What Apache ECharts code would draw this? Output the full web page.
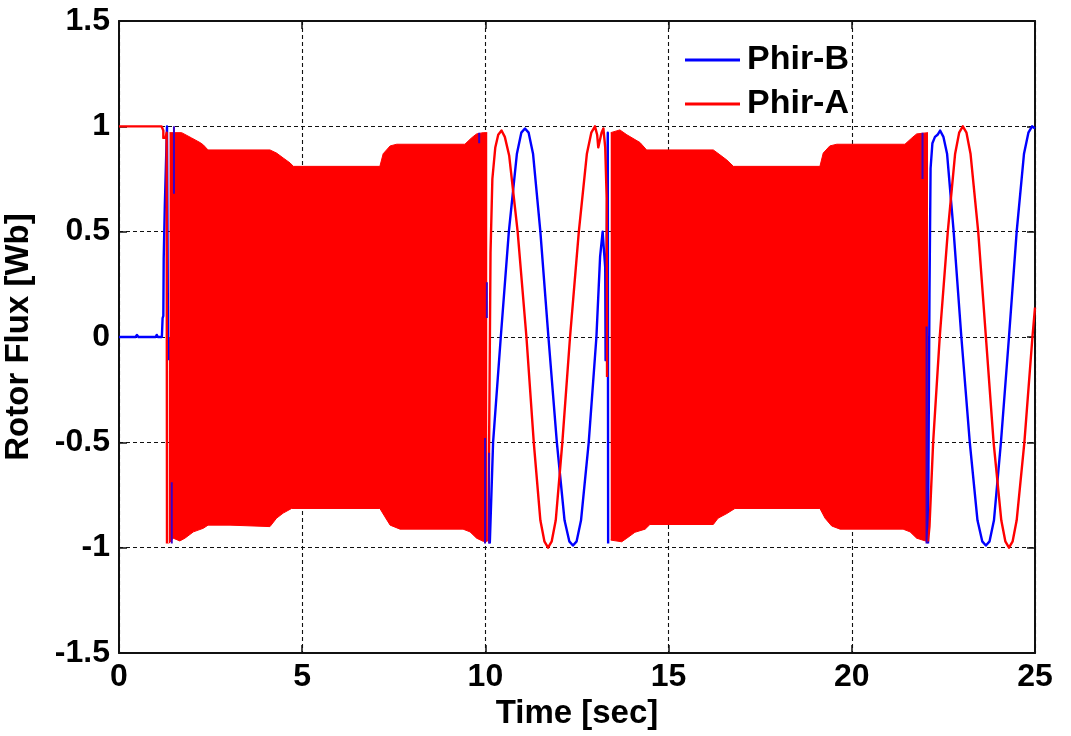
<!DOCTYPE html>
<html>
<head>
<meta charset="utf-8">
<script src="https://cdn.jsdelivr.net/npm/echarts@6/dist/echarts.min.js"></script>
<style>
html,body{margin:0;padding:0;background:#fff;}
#chart{width:1071px;height:736px;}
</style>
</head>
<body>
<div id="chart"></div>
<script>
// ---- data: [time (s), flux (Wb)] ; null = gap ----
const legendNames = ['Phir-B', 'Phir-A'];

// Phir-B slow trace (blue), drawn first
const phirB_trace = [
  [0,0],[0.45,0],[0.49,0.01],[0.53,0],[1.0,0],[1.03,0.01],[1.06,0],[1.17,0],[1.19,0.09],[1.21,0.1],
  [1.22,0.37],[1.25,0.62],[1.28,0.62],[1.31,1.0],[1.34,1.0],[1.34,-0.11],[1.34,null],
  [10.12,-0.98],[10.21,-0.5],[10.42,0],[10.64,0.5],[10.86,0.87],[10.98,0.97],[11.08,0.99],[11.18,0.97],
  [11.3,0.87],[11.5,0.5],[11.72,0],[11.95,-0.5],[12.16,-0.87],[12.29,-0.97],[12.39,-0.99],[12.49,-0.97],
  [12.61,-0.87],[12.82,-0.5],[13.03,0],[13.13,0.38],[13.2,0.5],[13.24,0.4],[13.27,0.33],[13.28,-0.11],
  [13.3,-0.11],[13.34,0.97],[13.35,-0.98],[13.36,null],
  [22.08,-0.98],[22.12,0.2],[22.15,0.8],[22.2,0.92],[22.27,0.95],[22.34,0.96],[22.41,0.98],[22.5,0.95],
  [22.6,0.87],[22.78,0.5],[22.99,0],[23.22,-0.5],[23.43,-0.87],[23.56,-0.97],[23.66,-0.99],[23.76,-0.97],
  [23.88,-0.87],[24.07,-0.5],[24.29,0],[24.5,0.5],[24.7,0.87],[24.82,0.97],[24.92,1.0],[25,0.99]
];

// Phir-A slow trace (red)
const phirA_trace = [
  [0,1],[1.16,1],[1.21,0.98],[1.21,0.945],[1.27,0.945],[1.3,0.97],[1.31,-0.98],[1.32,null],
  [10.08,-0.97],[10.11,-0.3],[10.14,0.4],[10.19,0.75],[10.27,0.9],[10.35,0.96],[10.44,0.98],[10.53,0.95],
  [10.65,0.86],[10.88,0.5],[11.12,0],[11.32,-0.5],[11.5,-0.87],[11.61,-0.97],[11.71,-1.0],[11.81,-0.97],
  [11.92,-0.87],[12.1,-0.5],[12.31,0],[12.55,0.5],[12.77,0.87],[12.89,0.97],[12.99,1.0],[13.05,0.96],
  [13.08,0.9],[13.12,0.9],[13.17,0.97],[13.22,0.99],[13.27,0.9],[13.3,0.9],[13.31,0.66],[13.32,-0.19],[13.33,null],
  [22.08,-0.97],[22.12,-0.9],[22.22,-0.5],[22.4,0],[22.62,0.5],[22.82,0.87],[22.93,0.97],[23.03,1.0],
  [23.13,0.97],[23.24,0.87],[23.45,0.5],[23.66,0],[23.87,-0.5],[24.08,-0.87],[24.19,-0.97],[24.29,-1.0],
  [24.39,-0.97],[24.5,-0.87],[24.71,-0.5],[24.93,0],[25,0.14]
];

// Phir-A fast oscillation: upper envelope of the dense band
const phirA_bandUpper = [
  [1.38,0.97],[1.53,0.97],[1.71,0.97],[1.98,0.945],[2.21,0.923],[2.3,0.912],[2.43,0.888],[4.12,0.888],
  [4.3,0.873],[4.48,0.85],[4.67,0.826],[4.76,0.81],[7.12,0.81],[7.21,0.87],[7.4,0.907],[7.58,0.915],
  [9.44,0.915],[9.62,0.945],[9.76,0.964],[9.94,0.97],[10.05,0.97],[10.06,null],
  [13.42,0.97],[13.67,0.983],[13.86,0.96],[14.22,0.923],[14.4,0.888],[16.22,0.888],[16.4,0.865],
  [16.59,0.84],[16.77,0.81],[19.13,0.81],[19.22,0.873],[19.4,0.907],[19.59,0.915],[21.45,0.915],
  [21.64,0.945],[21.77,0.964],[22.08,0.97]
];

// Phir-A fast oscillation: lower envelope of the dense band
const phirA_bandLower = [
  [1.36,-0.98],[1.48,-0.955],[1.66,-0.968],[1.8,-0.955],[2.03,-0.925],[2.3,-0.908],[2.43,-0.893],
  [3.03,-0.893],[3.05,-0.9],[4.12,-0.9],[4.3,-0.86],[4.48,-0.836],[4.71,-0.814],[7.12,-0.814],
  [7.26,-0.854],[7.4,-0.893],[7.67,-0.912],[9.39,-0.912],[9.58,-0.925],[9.76,-0.955],[9.94,-0.97],
  [10.05,-0.97],[10.06,null],
  [13.42,-0.964],[13.72,-0.972],[13.86,-0.955],[14.08,-0.927],[14.36,-0.912],[14.49,-0.89],[16.22,-0.89],
  [16.35,-0.86],[16.59,-0.838],[16.81,-0.814],[19.13,-0.814],[19.27,-0.86],[19.45,-0.897],[19.68,-0.912],
  [21.4,-0.912],[21.59,-0.925],[21.77,-0.955],[22.08,-0.972]
];

// Phir-B short strokes visible through the band edges
const phirB_strokes = [
  [1.44,-0.69],[1.44,-0.98],[1.44,null],
  [1.5,1.0],[1.5,0.68],[1.5,null],
  [9.83,0.97],[9.83,0.92],[9.83,null],
  [9.99,-0.48],[9.99,-0.98],[9.99,null],
  [10.04,0.26],[10.04,0.09],[10.04,null],
  [10.1,-0.55],[10.1,-0.98],[10.1,null],
  [21.93,0.97],[21.93,0.75],[21.93,null],
  [22.04,0.05],[22.04,-0.98]
];

const xRange = {min: 0, max: 25, interval: 5};
const yRange = {min: -1.5, max: 1.5, interval: 0.5};

const BLUE = '#0000ff', RED = '#ff0000';
const FONT = 'Liberation Sans, Arial, sans-serif';
const labelStyle = {fontSize: 32, fontWeight: 'bold', color: '#000', fontFamily: FONT};
const titleStyle = {fontSize: 33, fontWeight: 'bold', color: '#000', fontFamily: FONT};

const chart = echarts.init(document.getElementById('chart'), null, {renderer: 'canvas'});

const frameAxis = (extra) => Object.assign({
  type: 'value',
  axisLine: {show: true, onZero: false, lineStyle: {color: '#111', width: 2}},
  axisTick: {show: true, inside: true, length: 8, lineStyle: {color: '#111', width: 1.5}},
  splitLine: {show: false},
  axisLabel: {show: false}
}, extra);

const slowLine = (name, data, color) => ({
  name, type: 'line', data, showSymbol: false, symbol: 'none',
  connectNulls: false, sampling: 'none',
  lineStyle: {color, width: 2.4, join: 'round'}, itemStyle: {color}
});

chart.setOption({
  animation: false,
  backgroundColor: '#fff',
  grid: {left: 119, right: 36, top: 21, bottom: 83, outerBoundsMode: 'none'},
  legend: {
    data: legendNames,
    orient: 'vertical',
    left: 680,
    top: 36,
    itemWidth: 55,
    itemHeight: 3,
    itemGap: 6,
    icon: 'rect',
    textStyle: Object.assign({}, titleStyle, {fontSize: 34, lineHeight: 38, padding: [0, 0, 0, 2]})
  },
  xAxis: [
    frameAxis(Object.assign({}, xRange, {
      position: 'bottom',
      name: 'Time [sec]',
      nameLocation: 'middle',
      nameGap: 35,
      nameTextStyle: titleStyle,
      axisLabel: Object.assign({show: true, margin: 8}, labelStyle),
      splitLine: {show: true, lineStyle: {color: '#111', width: 1.1, type: [4, 3]}}
    })),
    frameAxis(Object.assign({}, xRange, {position: 'top'}))
  ],
  yAxis: [
    frameAxis(Object.assign({}, yRange, {
      position: 'left',
      name: 'Rotor Flux [Wb]',
      nameLocation: 'middle',
      nameGap: 84,
      nameTextStyle: titleStyle,
      axisLabel: Object.assign({show: true, margin: 9}, labelStyle),
      splitLine: {show: true, lineStyle: {color: '#111', width: 1.1, type: [4, 3]}}
    })),
    frameAxis(Object.assign({}, yRange, {position: 'right'}))
  ],
  series: [
    slowLine('Phir-B', phirB_trace, BLUE),
    {
      name: 'Phir-A band upper', type: 'line', data: phirA_bandUpper, symbol: 'none',
      connectNulls: false, sampling: 'none',
      lineStyle: {color: RED, width: 1}, areaStyle: {color: RED, opacity: 1, origin: 'auto'}
    },
    {
      name: 'Phir-A band lower', type: 'line', data: phirA_bandLower, symbol: 'none',
      connectNulls: false, sampling: 'none',
      lineStyle: {color: RED, width: 1}, areaStyle: {color: RED, opacity: 1, origin: 'auto'}
    },
    slowLine('Phir-A', phirA_trace, RED),
    {
      name: 'Phir-B strokes', type: 'line', data: phirB_strokes, symbol: 'none',
      connectNulls: false, sampling: 'none',
      lineStyle: {color: '#3a00c8', width: 2}
    }
  ]
});
</script>
</body>
</html>
